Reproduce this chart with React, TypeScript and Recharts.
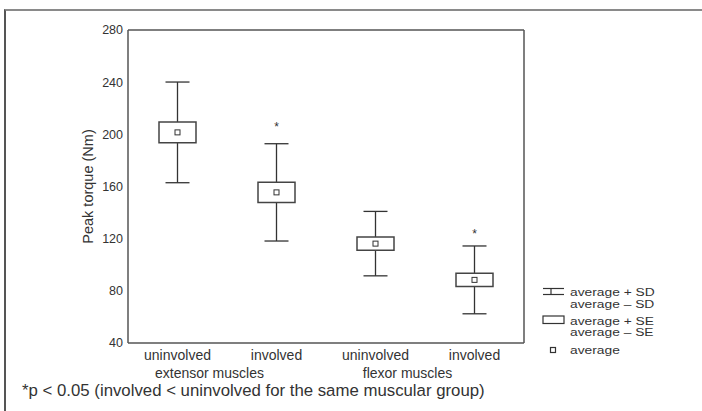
import React from 'react';
import { ComposedChart, Bar, Scatter, ErrorBar, XAxis, YAxis } from 'recharts';

const categories = ['uninvolved', 'involved', 'uninvolved', 'involved'];
const groups = ['extensor muscles', '', 'flexor muscles', ''];
const means = [201.5, 155.5, 116.2, 88.4];
const sds = [38.6, 37.3, 24.7, 26.0];
const ses = [8.0, 7.8, 5.0, 5.1];
const stars: (number | null)[] = [null, 208, null, 126];
const yTicks = [40, 80, 120, 160, 200, 240, 280];

const legendItems = ['average + SD', 'average \u2013 SD', 'average + SE', 'average \u2013 SE', 'average'];
const footnote = '*p < 0.05 (involved < uninvolved for the same muscular group)';

const data = categories.map((c, i) => ({
  id: `c${i}`,
  cat: c,
  mean: means[i],
  sd: sds[i],
  box: [means[i] - ses[i], means[i] + ses[i]],
  star: stars[i],
}));

const FONT = '"Liberation Sans", Arial, Helvetica, sans-serif';
const TEXT = '#333';
const AXIS = '#555';

function CategoryTick(props: any) {
  const { x, y, index } = props;
  return (
    <g>
      <text x={x} y={y + 12} dy="0.35em" textAnchor="middle" fontSize={14} fill={TEXT} fontFamily={FONT}>
        {categories[index]}
      </text>
      {groups[index] ? (
        <text x={x + 32} y={y + 30} dy="0.35em" textAnchor="middle" fontSize={14} fill={TEXT} fontFamily={FONT}>
          {groups[index]}
        </text>
      ) : null}
    </g>
  );
}

function MeanShape(props: any) {
  const { cx, cy } = props;
  if (!Number.isFinite(cx) || !Number.isFinite(cy)) return <g />;
  return <rect x={cx - 2.5} y={cy - 2.5} width={5} height={5} fill="#fff" stroke="#333" strokeWidth={1} />;
}

function StarShape(props: any) {
  const { cx, cy, payload } = props;
  if (payload == null || payload.star == null || !Number.isFinite(cy)) return <g />;
  return (
    <text x={cx} y={cy + 7} textAnchor="middle" fontSize={12} fill={TEXT} fontFamily={FONT}>
      *
    </text>
  );
}

function Empty() {
  return <g />;
}

const legendY = [292, 303.5, 320.5, 332, 350];

export default function App() {
  return (
    <div style={{ position: 'absolute', left: 0, top: 0, width: 702, height: 411, background: '#fff', overflow: 'hidden' }}>
      <div
        style={{
          position: 'absolute',
          left: 4,
          top: 8.5,
          width: 720,
          height: 420,
          borderTop: '2px solid #8a8a8a',
          borderLeft: '2px solid #555',
        }}
      />
      <div style={{ position: 'absolute', left: 0, top: 0 }}>
        <ComposedChart width={702} height={411} data={data} margin={{ top: 29, right: 178, bottom: 18, left: 68 }}>
          <XAxis
            dataKey="id"
            height={50}
            axisLine={{ stroke: AXIS, strokeWidth: 1.5 }}
            tickLine={false}
            tickSize={0}
            tickMargin={0}
            tick={<CategoryTick />}
            interval={0}
          />
          <XAxis
            xAxisId="top"
            dataKey="id"
            orientation="top"
            height={1}
            axisLine={{ stroke: AXIS, strokeWidth: 1.5 }}
            tickLine={false}
            tick={false}
          />
          <YAxis
            type="number"
            domain={[40, 280]}
            ticks={yTicks}
            width={60}
            axisLine={{ stroke: AXIS, strokeWidth: 1.5 }}
            tickLine={false}
            tickSize={0}
            tickMargin={5}
            tick={{ fill: TEXT, fontSize: 12.5, fontFamily: FONT }}
            label={{ value: 'Peak torque (Nm)', angle: -90, position: 'center', dx: -10, fill: TEXT, fontSize: 14.5, fontFamily: FONT }}
          />
          <YAxis
            yAxisId="right"
            orientation="right"
            type="number"
            domain={[40, 280]}
            ticks={yTicks}
            width={1}
            mirror
            axisLine={{ stroke: AXIS, strokeWidth: 1.5 }}
            tickLine={{ stroke: AXIS }}
            tickSize={3}
            tick={false}
          />
          <Scatter xAxisId="top" yAxisId="right" dataKey="mean" shape={<Empty />} isAnimationActive={false} />
          <Scatter dataKey="mean" shape={<Empty />} isAnimationActive={false}>
            <ErrorBar dataKey="sd" direction="y" width={12} stroke="#333" strokeWidth={1.3} zIndex={400} />
          </Scatter>
          <Bar dataKey="box" barSize={37} fill="#fff" stroke="#444" strokeWidth={1.5} isAnimationActive={false} zIndex={2500} />
          <Scatter dataKey="mean" shape={<MeanShape />} isAnimationActive={false} zIndex={2600} />
          <Scatter dataKey="star" shape={<StarShape />} isAnimationActive={false} zIndex={2600} />
        </ComposedChart>
      </div>
      <svg width={702} height={411} style={{ position: 'absolute', left: 0, top: 0, pointerEvents: 'none' }}>
        <g stroke="#333" strokeWidth={1.2} fill="none">
          <line x1={543} y1={288.5} x2={564} y2={288.5} />
          <line x1={543} y1={294.5} x2={564} y2={294.5} />
          <line x1={551} y1={288.5} x2={551} y2={294.5} />
          <rect x={543} y={316} width={21} height={7.5} />
          <rect x={550.5} y={347.5} width={5} height={5} />
        </g>
        <g fontFamily={FONT} fontSize={11.5} fill={TEXT}>
          {legendItems.map((t, i) => (
            <text key={i} transform={`translate(570 ${legendY[i]}) scale(1.2 1)`} x={0} y={0} dy="0.35em">
              {t}
            </text>
          ))}
        </g>
        <text x={22} y={390} dy="0.35em" fontFamily={FONT} fontSize={16.8} fill={TEXT}>
          {footnote}
        </text>
      </svg>
    </div>
  );
}
